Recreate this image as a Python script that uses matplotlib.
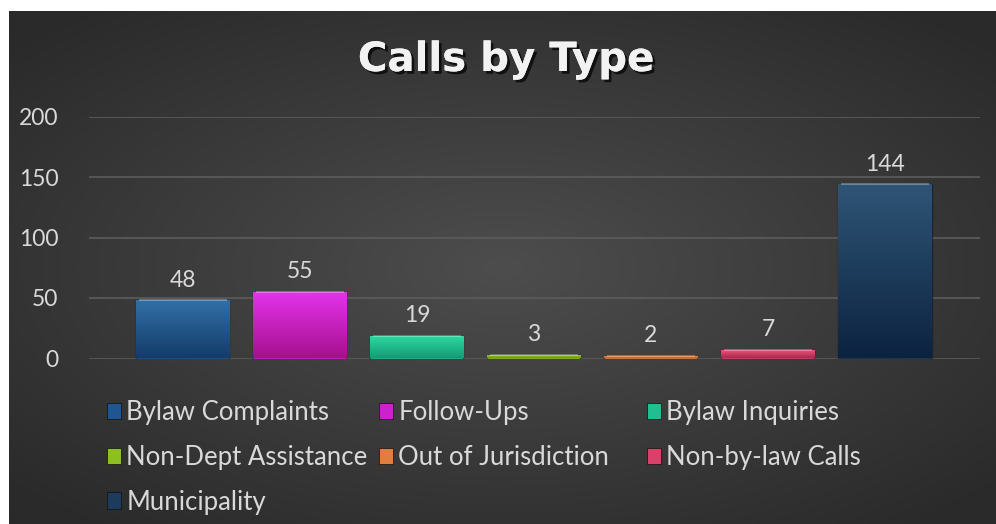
import numpy as np
import matplotlib.pyplot as plt
from matplotlib import patheffects
from matplotlib.colors import LinearSegmentedColormap
from matplotlib.patches import Patch

plt.rcParams['font.family'] = ['Lato', 'DejaVu Sans']

# Data
categories = ['Bylaw Complaints', 'Follow-Ups', 'Bylaw Inquiries',
              'Non-Dept Assistance', 'Out of Jurisdiction', 'Non-by-law Calls',
              'Municipality']
values = [48, 55, 19, 3, 2, 7, 144]
yticks = [0, 50, 100, 150, 200]

# bar colours (top of gradient, bottom of gradient, legend/flat colour)
top_colors = ['#3270a8', '#e434ec', '#30dba2', '#a2d22e', '#f39a5e', '#f2567e', '#2f5576']
bottom_colors = ['#143c6a', '#a6108e', '#129c76', '#6c9812', '#c25e28', '#ae264e', '#0c2340']
flat_colors = ['#1f5590', '#cc22cc', '#1fbf8f', '#8cbf1f', '#e07d3f', '#d9406a', '#1d3b5c']

text_grey = '#d9d9d9'

fig = plt.figure(figsize=(9.96, 5.24), dpi=100)
fig.patch.set_facecolor('white')

# dark radial background of the chart area
bg = fig.add_axes([9 / 996, 0, 987 / 996, 513 / 524])
yy, xx = np.mgrid[-1:1:300j, -1:1:500j]
rad = np.clip(np.sqrt((xx * 0.95) ** 2 + (yy * 1.0) ** 2), 0, 1.4)
bg_cmap = LinearSegmentedColormap.from_list('bg', ['#4d4d4d', '#2a2a2a'])
bg.imshow(rad, cmap=bg_cmap, aspect='auto', vmin=0, vmax=1.3)
bg.axis('off')

ax = fig.add_axes([89 / 996, (524 - 358.5) / 524, 891 / 996, 242 / 524])
ax.set_facecolor('none')

x = np.arange(len(values))
width = 0.795
bars = ax.bar(x, values, width=width, color=flat_colors, edgecolor='#10101080',
              linewidth=1.0, zorder=3)

# vertical gradient inside each bar
grad = np.linspace(0, 1, 100).reshape(-1, 1)
for bar, c_top, c_bot in zip(bars, top_colors, bottom_colors):
    cm = LinearSegmentedColormap.from_list('g', [c_bot, c_top])
    x0 = bar.get_x()
    im = ax.imshow(grad, cmap=cm, aspect='auto', origin='lower',
                   extent=[x0, x0 + bar.get_width(), 0, bar.get_height()],
                   zorder=3.5)
    im.set_clip_path(bar)
    # light bevel line along the top edge
    ax.plot([x0 + 0.02, x0 + bar.get_width() - 0.02], [bar.get_height()] * 2,
            color='white', alpha=0.35, linewidth=1.2, zorder=4,
            solid_capstyle='butt')

# value labels
for xi, v in zip(x, values):
    ax.annotate(str(v), (xi, v), xytext=(0, 7), textcoords='offset points',
                ha='center', va='bottom', fontsize=16.5, color=text_grey)

ax.set_xlim(-0.803, 6.812)
ax.set_ylim(0, 200)
ax.set_yticks(yticks)
ax.set_xticks([])
ax.grid(axis='y', color='#5c5c5c', linewidth=1.2, zorder=0)
ax.set_axisbelow(True)
for s in ax.spines.values():
    s.set_visible(False)
ax.tick_params(axis='y', length=0, pad=22, labelsize=16.5, labelcolor=text_grey)

# title with shadow
fig.text(0.508, 1 - 60 / 524, 'Calls by Type', ha='center', va='center',
         fontsize=29, fontweight='bold', color='#f2f2f2',
         family=['DejaVu Sans'],
         path_effects=[patheffects.withSimplePatchShadow(offset=(2, -2),
                                                         shadow_rgbFace='black',
                                                         alpha=0.7),
                       patheffects.Normal()])

# legend, three equal-width columns filled row by row
col_x = [107, 379, 647]
col_items = [[0, 3, 6], [1, 4], [2, 5]]
for cx, idxs in zip(col_x, col_items):
    handles = [Patch(facecolor=flat_colors[i], edgecolor='#101010', linewidth=0.5)
               for i in idxs]
    labels = [categories[i] for i in idxs]
    fig.legend(handles, labels, loc='upper left',
               bbox_to_anchor=(cx / 996, 1 - 400 / 524), frameon=False,
               fontsize=18.5, labelcolor=text_grey, handlelength=0.55,
               handleheight=0.6, handletextpad=0.2, labelspacing=0.77,
               borderpad=0, borderaxespad=0)

plt.savefig('out.png', dpi=100)
